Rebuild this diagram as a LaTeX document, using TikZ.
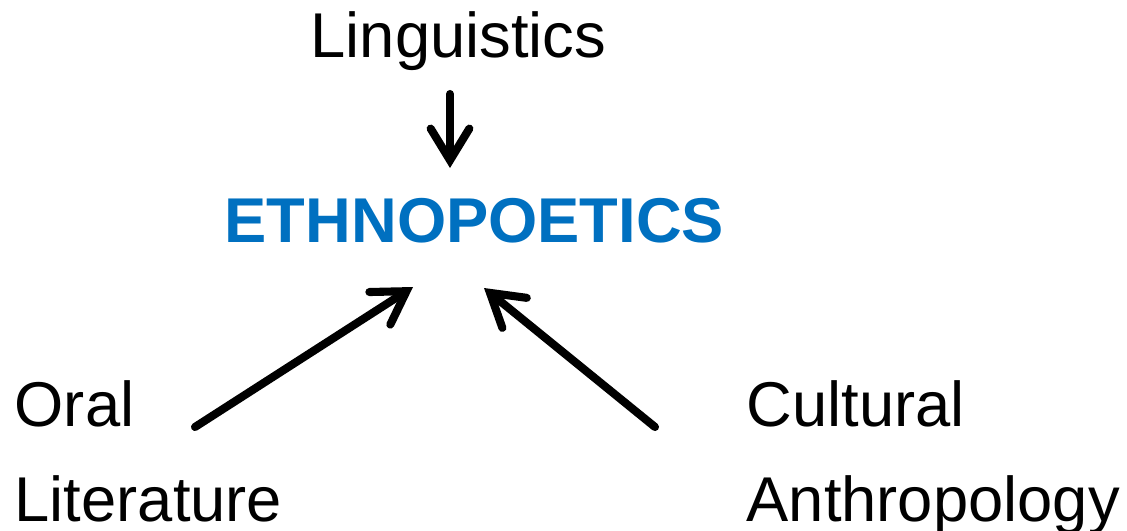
\documentclass[tikz,border=0pt]{standalone}
\usepackage{fontspec}
\setmainfont{Liberation Sans}
\usetikzlibrary{arrows.meta}
\definecolor{ethblue}{RGB}{0,112,192}
\tikzset{
    label/.style={inner sep=0pt, font=\fontsize{18}{27}\selectfont, align=left},
    arrowline/.style={line width=2.3pt, line cap=round, -{Straight Barb[length=9pt,width=11pt,line cap=round]}}
}
\begin{document}
\begin{tikzpicture}[x=0.01cm,y=-0.01cm]
        \useasboundingbox (0,0) rectangle (1127,530);
        \node[label, anchor=base west] (ling) at (310,57) {Linguistics};
        \node[label, anchor=base west, text=ethblue, font=\fontsize{18}{27}\selectfont\bfseries] (ethno) at (224,242) {ETHNOPOETICS};
        \node[label, anchor=base west] (oral) at (14,521) {Oral\\Literature};
        \node[label, anchor=base west] (cult) at (746,521) {Cultural\\Anthropology};
        \coordinate (lingend) at (450,94);
        \coordinate (oralend) at (195,427);
        \coordinate (cultend) at (655,427);
        \coordinate (ethtop) at (450,168);
        \coordinate (ethleft) at (413,287);
        \coordinate (ethright) at (484,288);
        \draw [arrowline] (lingend)--(ethtop);
        \draw [arrowline] (oralend)--(ethleft);
        \draw [arrowline] (cultend)--(ethright);
\end{tikzpicture}
\end{document}
